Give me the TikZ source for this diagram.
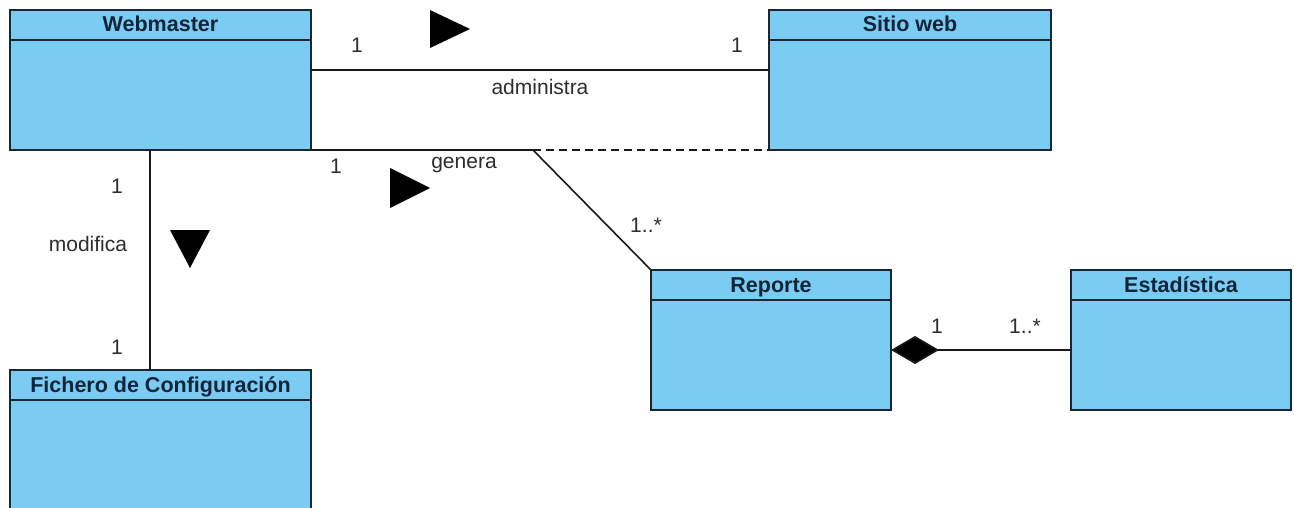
\documentclass[tikz,border=0pt]{standalone}
\usepackage{fontspec}
\setmainfont{Liberation Sans}
\usetikzlibrary{arrows.meta,calc}
\definecolor{boxfill}{RGB}{122,204,242}
\definecolor{boxline}{RGB}{28,38,50}
\definecolor{titletext}{RGB}{16,36,58}
\definecolor{labeltext}{RGB}{45,45,45}
\tikzset{
  classbox/.style={draw=boxline, line width=2pt, fill=boxfill, inner sep=0pt, outer sep=0pt},
  classtitle/.style={font=\fontsize{21.5}{24}\selectfont\bfseries, text=titletext, inner sep=0pt, anchor=base},
  assoc/.style={draw=black!90, line width=1.6pt},
  lbl/.style={font=\fontsize{21}{24}\selectfont, text=labeltext, inner sep=0pt},
  navtri/.style={fill=black, draw=none}
}
\begin{document}
\begin{tikzpicture}[x=1pt, y=-1pt]
\useasboundingbox (0,0) rectangle (1294,508);
\clip (0,0) rectangle (1294,508);

% classes
\node[classbox, minimum width=301pt, minimum height=140pt] (web) at (160.5,80) {};
\node[classbox, minimum width=282pt, minimum height=140pt] (site) at (910,80) {};
\node[classbox, minimum width=301pt, minimum height=170pt] (fich) at (160.5,455) {};
\node[classbox, minimum width=240pt, minimum height=140pt] (rep) at (771,340) {};
\node[classbox, minimum width=220pt, minimum height=140pt] (est) at (1181,340) {};

% header separators
\foreach \c in {web,site,fich,rep,est}{
  \draw[boxline, line width=2pt] ([yshift=-30pt]\c.north west) -- ([yshift=-30pt]\c.north east);
}

% class names
\node[classtitle] (webT)  at ([yshift=-22pt]web.north)  {Webmaster};
\node[classtitle] (siteT) at ([yshift=-22pt]site.north) {Sitio web};
\node[classtitle] (fichT) at ([yshift=-22pt]fich.north) {Fichero de Configuración};
\node[classtitle] (repT)  at ([yshift=-22pt]rep.north)  {Reporte};
\node[classtitle] (estT)  at ([yshift=-22pt]est.north)  {Estadística};

% administra
\draw[assoc] ([yshift=10pt]web.east) -- ([yshift=10pt]site.west);
\node[lbl] (a1) at (357,45) {1};
\node[lbl] (a2) at (737,45) {1};
\node[lbl] (aN) at (540,87) {administra};
\fill[navtri] (430,10) -- (470,29) -- (430,48) -- cycle;

% genera
\coordinate (gj) at (533,150);
\draw[assoc] (web.south east) -- (gj) -- (rep.north west);
\draw[assoc, dash pattern=on 8pt off 5pt] (gj) -- (site.south west);
\node[lbl] (g1) at (336,166) {1};
\node[lbl] (gN) at (464,165) {genera};
\node[lbl] (g2) at (646,225) {1..*};
\fill[navtri] (390,168) -- (430,188) -- (390,208) -- cycle;

% modifica
\draw[assoc] ([xshift=-10.5pt]web.south) -- ([xshift=-10.5pt]fich.north);
\node[lbl] (m1) at (117,186) {1};
\node[lbl] (mN) at (88,244) {modifica};
\node[lbl] (m2) at (117,347) {1};
\fill[navtri] (170,230) -- (210,230) -- (190,268) -- cycle;

% composition
\draw[assoc, {Diamond[length=48pt,width=28pt,fill=black]}-] ([yshift=-10pt]rep.east) -- ([yshift=-10pt]est.west);
\node[lbl] (c1) at (937,326) {1};
\node[lbl] (c2) at (1025,326) {1..*};
\end{tikzpicture}
\end{document}
